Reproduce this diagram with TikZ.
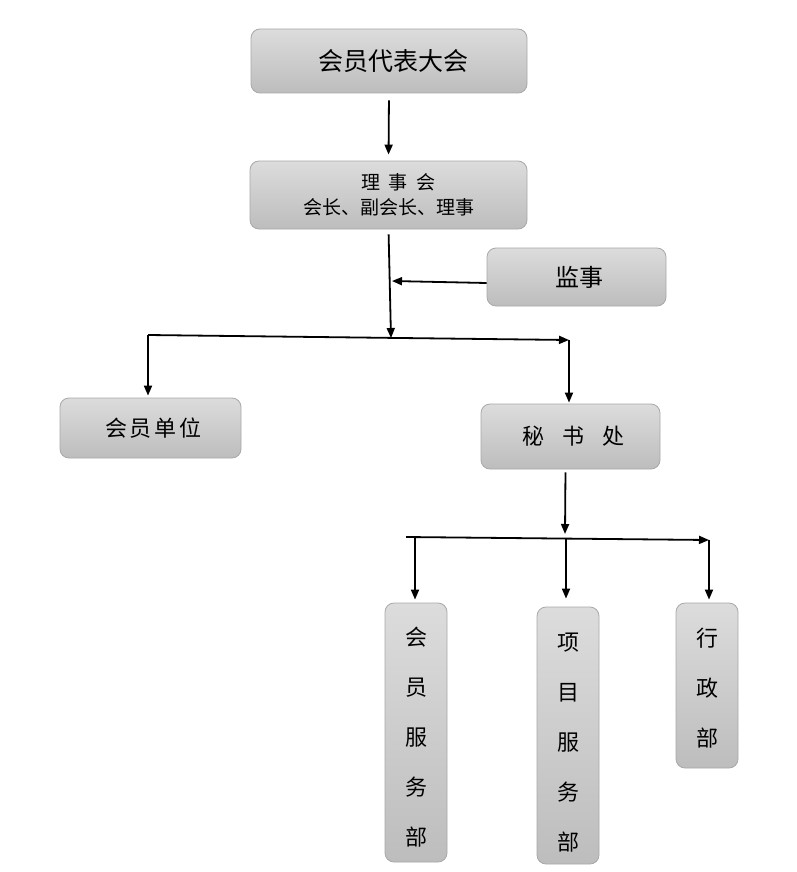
\documentclass[tikz,border=0pt]{standalone}
\usepackage{fontspec}
\newfontfamily\cjk{Noto Sans CJK SC}
\usetikzlibrary{arrows.meta}
\definecolor{boxtop}{HTML}{DCDCDC}
\definecolor{boxbot}{HTML}{BDBDBD}
\definecolor{boxline}{HTML}{A8A8A8}
\tikzset{
  orgbox/.style={draw=boxline, line width=0.8pt, rounded corners=9pt, top color=boxtop,
    bottom color=boxbot, inner sep=0pt, align=center, text=black},
  vbox/.style={orgbox, minimum width=62pt, font=\cjk\fontsize{22}{50}\selectfont},
  link/.style={line width=1.8pt, -{Triangle[length=10pt,width=8pt]}}
}

\begin{document}
\begin{tikzpicture}[x=1pt,y=-1pt]
\useasboundingbox (0,0) rectangle (797,872);

% boxes
\node[orgbox, minimum width=276pt, minimum height=64pt, font=\cjk\fontsize{25}{30}\selectfont]
  (dahui) at (389,61) {\hspace*{8pt}会员代表大会};
\node[orgbox, minimum width=277pt, minimum height=68pt, font=\cjk\fontsize{19}{25}\selectfont]
  (lishi) at (388.5,195) {\hspace*{20pt}理\hspace{9pt}事\hspace{9pt}会\\会长、副会长、理事};
\node[orgbox, minimum width=179pt, minimum height=58pt, font=\cjk\fontsize{24}{30}\selectfont]
  (jianshi) at (576.5,277) {\hspace*{6pt}监事};
\node[orgbox, minimum width=181pt, minimum height=60pt, font=\cjk\fontsize{22}{30}\selectfont]
  (danwei) at (150.5,428) {\hspace*{6pt}会\hspace{3pt}员\hspace{3pt}单\hspace{3pt}位};
\node[orgbox, minimum width=179pt, minimum height=65pt, font=\cjk\fontsize{22}{30}\selectfont]
  (mishu) at (570.5,436.5) {\hspace*{6pt}秘\hspace{18pt}书\hspace{18pt}处};

\node[vbox, minimum height=259pt] (hyfw) at (416,732.5) {\rule{0pt}{28pt}会\\员\\服\\务\\部};
\node[vbox, minimum height=257pt] (xmfw) at (568,735.5) {\rule{0pt}{31pt}项\\目\\服\\务\\部};
\node[vbox, minimum height=165pt] (xzb) at (707,685.5) {\rule{0pt}{24pt}行\\政\\部};

% junctions
\coordinate (j1) at (391,338);
\coordinate (m1) at (392,281);
\coordinate (b1l) at (148,335);
\coordinate (b1r) at (569,340);
\coordinate (j2) at (565,534);
\coordinate (b2l) at (406,537);
\coordinate (b2m) at (566,539);
\coordinate (b2r) at (709,540);

% links
\draw[link, shorten <=7pt, shorten >=6pt] (dahui.south) -- (lishi.north);
\draw[link, shorten <=5pt] (lishi.south) -- (j1);
\draw[link] ([yshift=-6pt]jianshi.west) -- (m1);

\draw[link] (b1l) -- (b1r);
\draw[link, shorten >=2pt] (b1l) -- (b1l |- danwei.north);
\draw[link, shorten >=1pt] (b1r) -- (b1r |- mishu.north);

\draw[link, shorten <=3pt] ([xshift=-5pt]mishu.south) -- (j2);
\draw[link] (b2l) -- (b2r);
\draw[link, shorten >=3pt] ([xshift=9pt]b2l) -- ([xshift=9pt]b2l |- hyfw.north);
\draw[link, shorten >=8pt] (b2m) -- (b2m |- xmfw.north);
\draw[link, shorten >=3pt] (b2r) -- (b2r |- xzb.north);

\end{tikzpicture}
\end{document}
